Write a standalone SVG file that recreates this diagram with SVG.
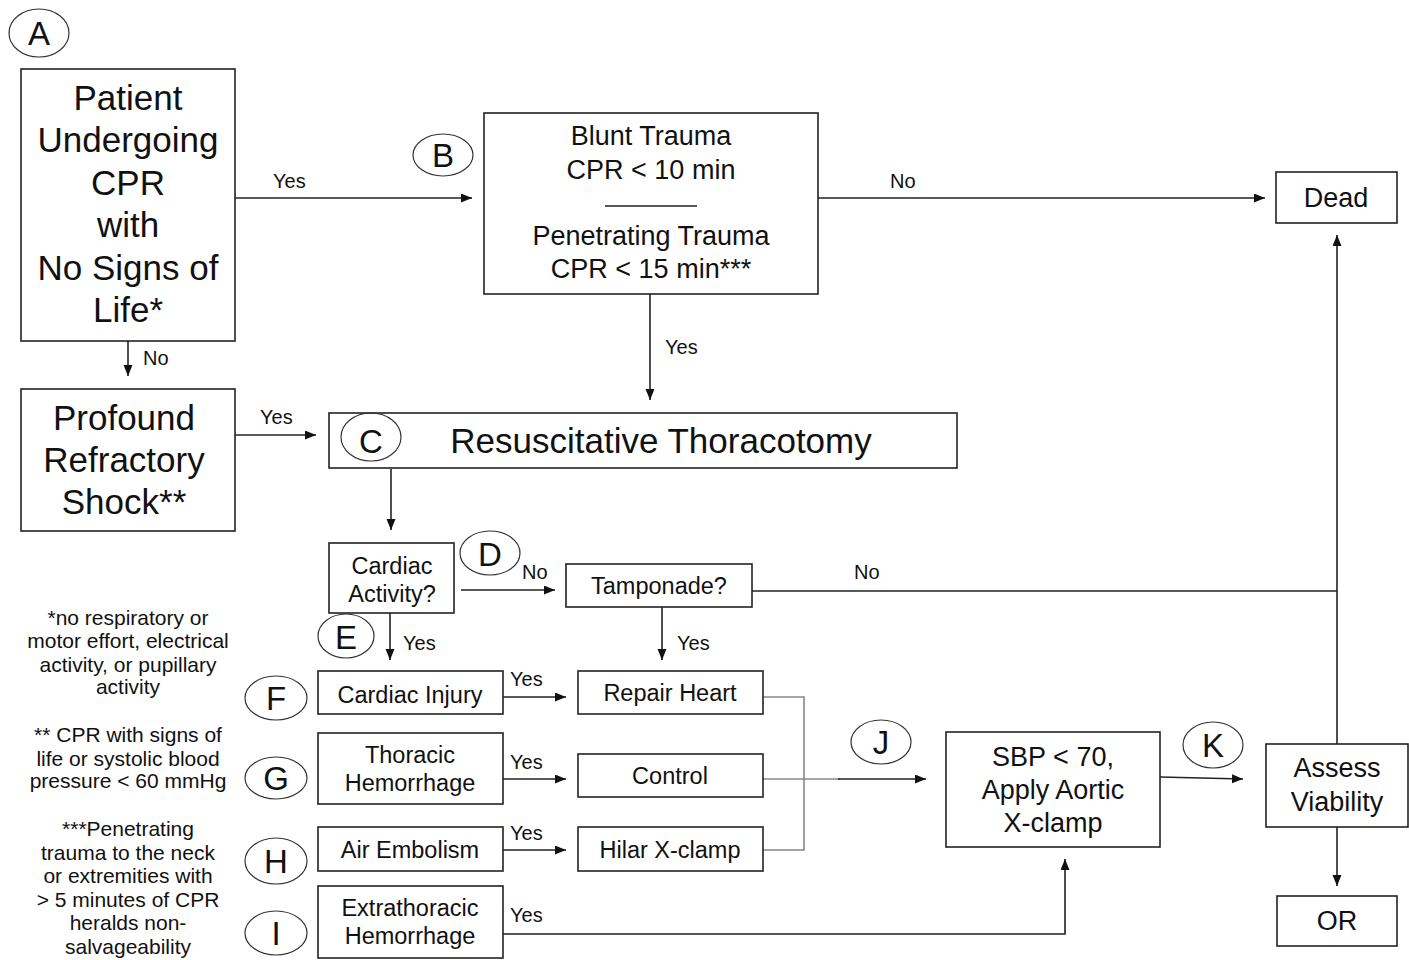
<svg xmlns="http://www.w3.org/2000/svg" width="1409" height="960" viewBox="0 0 1409 960">
<defs>
<marker id="ah" markerUnits="userSpaceOnUse" markerWidth="12" markerHeight="10" refX="11" refY="4.5" orient="auto">
<path d="M0,0 L11,4.5 L0,9 z" fill="#111"/>
</marker>
<style>
text{font-family:"Liberation Sans",Arial,sans-serif;fill:#111;text-anchor:middle}
.box{fill:#fff;stroke:#222;stroke-width:1.6}
.circ{fill:none;stroke:#333;stroke-width:1.2}
.ln{fill:none;stroke:#222;stroke-width:1.6}
.gr{fill:none;stroke:#888;stroke-width:1.6}
.big{font-size:35px}
.mid{font-size:27px}
.sm{font-size:23.5px}
.lab{font-size:20px;text-anchor:start}
.fn{font-size:21px}
.let{font-size:33px}
</style>
</defs>
<rect width="1409" height="960" fill="#fff"/>

<g id="connectors">
<line class="ln" x1="235" y1="198" x2="472" y2="198" marker-end="url(#ah)"/>
<text class="lab" x="273" y="188">Yes</text>
<line class="ln" x1="128" y1="341" x2="128" y2="376" marker-end="url(#ah)"/>
<text class="lab" x="143" y="365">No</text>
<line class="ln" x1="818" y1="198" x2="1265" y2="198" marker-end="url(#ah)"/>
<text class="lab" x="890" y="188">No</text>
<line class="ln" x1="650" y1="294" x2="650" y2="400" marker-end="url(#ah)"/>
<text class="lab" x="665" y="354">Yes</text>
<line class="ln" x1="235" y1="435" x2="316" y2="435" marker-end="url(#ah)"/>
<text class="lab" x="260" y="424">Yes</text>
<line class="ln" x1="391" y1="469" x2="391" y2="530" marker-end="url(#ah)"/>
<line class="ln" x1="461" y1="590" x2="555" y2="590" marker-end="url(#ah)"/>
<text class="lab" x="522" y="579">No</text>
<polyline class="ln" points="752,591 1337,591"/>
<text class="lab" x="854" y="579">No</text>
<line class="ln" x1="662" y1="607" x2="662" y2="660" marker-end="url(#ah)"/>
<text class="lab" x="677" y="650">Yes</text>
<line class="ln" x1="390" y1="613" x2="390" y2="660" marker-end="url(#ah)"/>
<text class="lab" x="403" y="650">Yes</text>
<line class="ln" x1="503" y1="697" x2="566" y2="697" marker-end="url(#ah)"/>
<text class="lab" x="510" y="686">Yes</text>
<line class="ln" x1="503" y1="779" x2="566" y2="779" marker-end="url(#ah)"/>
<text class="lab" x="510" y="769">Yes</text>
<line class="ln" x1="503" y1="850" x2="566" y2="850" marker-end="url(#ah)"/>
<text class="lab" x="510" y="840">Yes</text>
<polyline class="ln" points="503,934 1065,934 1065,859" marker-end="url(#ah)"/>
<text class="lab" x="510" y="922">Yes</text>
<polyline class="gr" points="763,697 804,697 804,850 763,850"/>
<line class="gr" x1="763" y1="779" x2="840" y2="779"/>
<line class="ln" x1="838" y1="779" x2="926" y2="779" marker-end="url(#ah)"/>
<line class="ln" x1="1160" y1="777" x2="1243" y2="779" marker-end="url(#ah)"/>
<line class="ln" x1="1337" y1="744" x2="1337" y2="235" marker-end="url(#ah)"/>
<line class="ln" x1="1337" y1="827" x2="1337" y2="886" marker-end="url(#ah)"/>
</g>

<g id="lbl-A"><ellipse class="circ" cx="39" cy="33" rx="30" ry="24"/><text class="let" x="39" y="45">A</text></g>
<g id="lbl-B"><ellipse class="circ" cx="443" cy="155" rx="30" ry="21"/><text class="let" x="443" y="167">B</text></g>

<g id="node-A">
<rect class="box" x="21" y="69" width="214" height="272"/>
<text class="big" x="128" y="110">Patient</text>
<text class="big" x="128" y="152">Undergoing</text>
<text class="big" x="128" y="195">CPR</text>
<text class="big" x="128" y="237">with</text>
<text class="big" x="128" y="280">No Signs of</text>
<text class="big" x="128" y="322">Life*</text>
</g>

<g id="node-B">
<rect class="box" x="484" y="113" width="334" height="181"/>
<text class="mid" x="651" y="145">Blunt Trauma</text>
<text class="mid" x="651" y="179">CPR &lt; 10 min</text>
<line x1="605" y1="206" x2="697" y2="206" stroke="#222" stroke-width="1.4"/>
<text class="mid" x="651" y="245">Penetrating Trauma</text>
<text class="mid" x="651" y="278">CPR &lt; 15 min***</text>
</g>

<g id="node-dead">
<rect class="box" x="1276" y="172" width="121" height="51"/>
<text class="mid" x="1336" y="207">Dead</text>
</g>

<g id="node-profound">
<rect class="box" x="21" y="389" width="214" height="142"/>
<text class="big" x="124" y="430">Profound</text>
<text class="big" x="124" y="472">Refractory</text>
<text class="big" x="124" y="514">Shock**</text>
</g>

<g id="node-C">
<rect class="box" x="329" y="413" width="628" height="55"/>
<ellipse class="circ" cx="371" cy="437" rx="30" ry="24"/>
<text class="let" x="371" y="453">C</text>
<text class="big" x="661" y="453">Resuscitative Thoracotomy</text>
</g>

<g id="node-cardiac">
<rect class="box" x="329" y="543" width="125" height="70"/>
<text class="sm" x="392" y="574">Cardiac</text>
<text class="sm" x="392" y="602">Activity?</text>
</g>
<g id="lbl-D"><ellipse class="circ" cx="490" cy="553" rx="30" ry="22"/><text class="let" x="490" y="566">D</text></g>
<g id="lbl-E"><ellipse class="circ" cx="346" cy="636" rx="28" ry="22"/><text class="let" x="346" y="649">E</text></g>

<g id="node-tamponade">
<rect class="box" x="566" y="564" width="186" height="43"/>
<text class="sm" x="659" y="594">Tamponade?</text>
</g>

<g id="lbl-F"><ellipse class="circ" cx="276" cy="698" rx="31" ry="22"/><text class="let" x="276" y="710">F</text></g>
<g id="lbl-G"><ellipse class="circ" cx="276" cy="778" rx="31" ry="21"/><text class="let" x="276" y="790">G</text></g>
<g id="lbl-H"><ellipse class="circ" cx="276" cy="861" rx="31" ry="23"/><text class="let" x="276" y="873">H</text></g>
<g id="lbl-I"><ellipse class="circ" cx="276" cy="933" rx="31" ry="22"/><text class="let" x="276" y="945">I</text></g>

<g id="node-cardiac-injury">
<rect class="box" x="318" y="671" width="185" height="43"/>
<text class="sm" x="410" y="703">Cardiac Injury</text>
</g>
<g id="node-thoracic">
<rect class="box" x="318" y="733" width="185" height="71"/>
<text class="sm" x="410" y="763">Thoracic</text>
<text class="sm" x="410" y="791">Hemorrhage</text>
</g>
<g id="node-air">
<rect class="box" x="318" y="827" width="185" height="44"/>
<text class="sm" x="410" y="858">Air Embolism</text>
</g>
<g id="node-extra">
<rect class="box" x="318" y="886" width="185" height="72"/>
<text class="sm" x="410" y="916">Extrathoracic</text>
<text class="sm" x="410" y="944">Hemorrhage</text>
</g>

<g id="node-repair">
<rect class="box" x="578" y="671" width="185" height="43"/>
<text class="sm" x="670" y="701">Repair Heart</text>
</g>
<g id="node-control">
<rect class="box" x="578" y="754" width="185" height="43"/>
<text class="sm" x="670" y="784">Control</text>
</g>
<g id="node-hilar">
<rect class="box" x="578" y="827" width="185" height="44"/>
<text class="sm" x="670" y="858">Hilar X-clamp</text>
</g>

<g id="lbl-J"><ellipse class="circ" cx="881" cy="742" rx="30" ry="22"/><text class="let" x="881" y="754">J</text></g>

<g id="node-sbp">
<rect class="box" x="946" y="732" width="214" height="115"/>
<text class="mid" x="1053" y="766">SBP &lt; 70,</text>
<text class="mid" x="1053" y="799">Apply Aortic</text>
<text class="mid" x="1053" y="832">X-clamp</text>
</g>

<g id="lbl-K"><ellipse class="circ" cx="1213" cy="745" rx="30" ry="23"/><text class="let" x="1213" y="757">K</text></g>

<g id="node-assess">
<rect class="box" x="1266" y="744" width="142" height="83"/>
<text class="mid" x="1337" y="777">Assess</text>
<text class="mid" x="1337" y="811">Viability</text>
</g>

<g id="node-or">
<rect class="box" x="1277" y="896" width="120" height="50"/>
<text class="mid" x="1337" y="930">OR</text>
</g>

<g id="footnotes">
<text class="fn" x="128" y="625">*no respiratory or</text>
<text class="fn" x="128" y="648">motor effort, electrical</text>
<text class="fn" x="128" y="672">activity, or pupillary</text>
<text class="fn" x="128" y="694">activity</text>
<text class="fn" x="128" y="742">** CPR with signs of</text>
<text class="fn" x="128" y="766">life or systolic blood</text>
<text class="fn" x="128" y="788">pressure &lt; 60 mmHg</text>
<text class="fn" x="128" y="836">***Penetrating</text>
<text class="fn" x="128" y="860">trauma to the neck</text>
<text class="fn" x="128" y="883">or extremities with</text>
<text class="fn" x="128" y="907">&gt; 5 minutes of CPR</text>
<text class="fn" x="128" y="930">heralds non-</text>
<text class="fn" x="128" y="954">salvageability</text>
</g>
</svg>
